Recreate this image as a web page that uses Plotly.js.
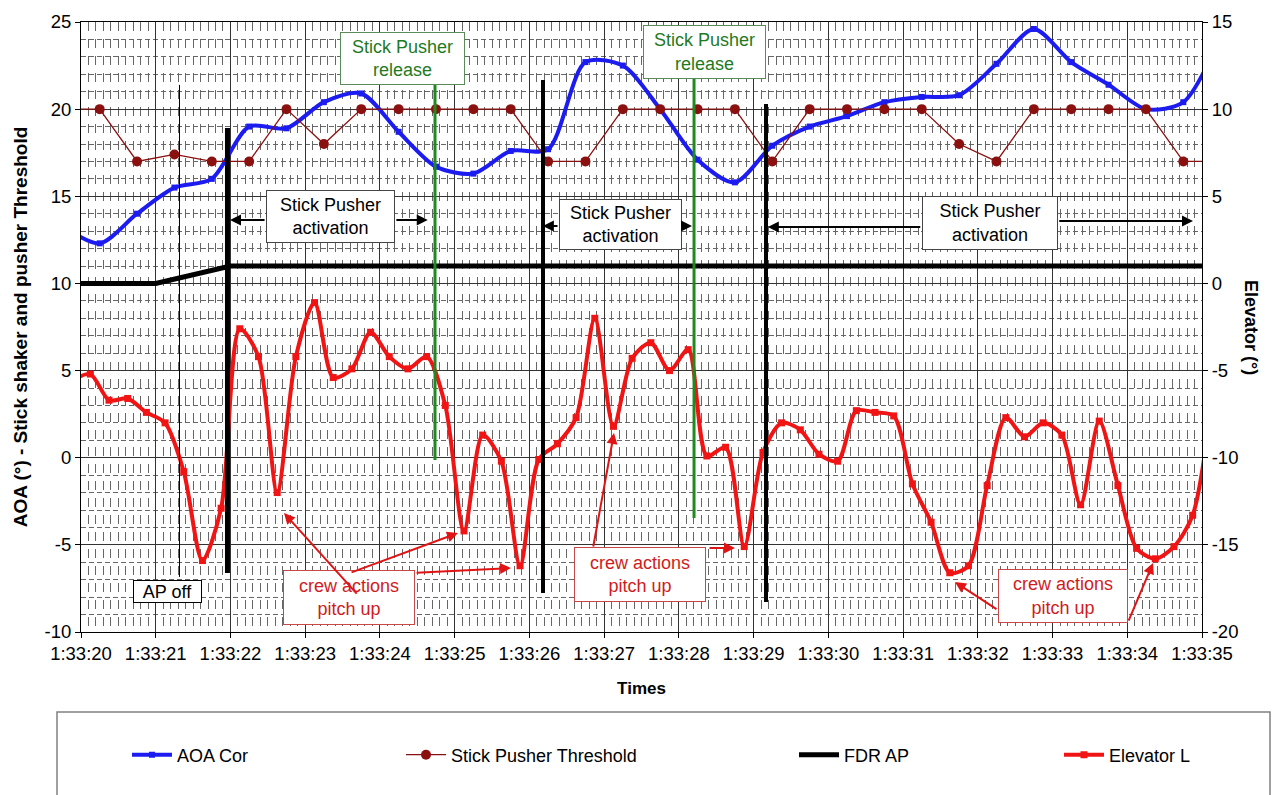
<!DOCTYPE html>
<html>
<head>
<meta charset="utf-8">
<script src="https://cdn.plot.ly/plotly-3.0.1.min.js"></script>
<style>html,body{margin:0;padding:0;background:#fff;}#chart{width:1283px;height:795px;}</style>
</head>
<body>
<div id="chart"></div>
<script>
// ---- Data (time in seconds after 1:33:20) ----
const timeTickVals = [0,1,2,3,4,5,6,7,8,9,10,11,12,13,14,15];
const timeTickText = ["1:33:20","1:33:21","1:33:22","1:33:23","1:33:24","1:33:25","1:33:26","1:33:27","1:33:28","1:33:29","1:33:30","1:33:31","1:33:32","1:33:33","1:33:34","1:33:35"];
const leftTickVals = [-10,-5,0,5,10,15,20,25];
const leftTickText = ["-10","-5","0","5","10","15","20","25"];
const rightTickVals = [-20,-15,-10,-5,0,5,10,15];
const rightTickText = ["-20","-15","-10","-5","0","5","10","15"];

// AOA Cor (left axis)
const aoaTime = [-0.25,0.25,0.75,1.25,1.75,2.25,2.75,3.25,3.75,4.25,4.75,5.25,5.75,6.25,6.75,7.25,7.75,8.25,8.75,9.25,9.75,10.25,10.75,11.25,11.75,12.25,12.75,13.25,13.75,14.25,14.75,15.25];
const aoaCor  = [13.3,12.3,14.0,15.5,16.0,19.0,18.9,20.4,20.9,18.7,16.7,16.3,17.6,17.7,22.7,22.5,20.0,17.1,15.8,17.9,19.0,19.6,20.4,20.7,20.8,22.6,24.6,22.7,21.4,20.0,20.4,24.2];

// Stick Pusher Threshold (left axis)
const spTime = [-0.25,0.25,0.75,1.25,1.75,2.25,2.75,3.25,3.75,4.25,4.75,5.25,5.75,6.25,6.75,7.25,7.75,8.25,8.75,9.25,9.75,10.25,10.75,11.25,11.75,12.25,12.75,13.25,13.75,14.25,14.75,15.25];
const spThreshold = [20,20,17,17.4,17,17,20,18,20,20,20,20,20,17,17,20,20,20,20,17,20,20,20,20,18,17,20,20,20,20,17,17];

// FDR AP (right axis)
const apTime = [0,1,2,3,4,5,6,7,8,9,10,11,12,13,14,15];
const fdrAP  = [0,0,1,1,1,1,1,1,1,1,1,1,1,1,1,1];

// Elevator L (right axis)
const elevTime = [-0.125,0.125,0.375,0.625,0.875,1.125,1.375,1.625,1.875,2.125,2.375,2.625,2.875,3.125,3.375,3.625,3.875,4.125,4.375,4.625,4.875,5.125,5.375,5.625,5.875,6.125,6.375,6.625,6.875,7.125,7.375,7.625,7.875,8.125,8.375,8.625,8.875,9.125,9.375,9.625,9.875,10.125,10.375,10.625,10.875,11.125,11.375,11.625,11.875,12.125,12.375,12.625,12.875,13.125,13.375,13.625,13.875,14.125,14.375,14.625,14.875,15.125];
const elevatorL = [-5.6,-5.2,-6.7,-6.6,-7.4,-8.0,-10.8,-15.9,-12.9,-2.6,-4.2,-12.0,-4.2,-1.1,-5.4,-4.9,-2.8,-4.2,-4.9,-4.2,-7.0,-14.2,-8.7,-10.2,-16.2,-10.1,-9.2,-7.7,-2.0,-8.2,-4.3,-3.4,-5.0,-3.8,-9.9,-9.4,-15.1,-9.7,-8.0,-8.4,-9.8,-10.2,-7.3,-7.4,-7.6,-11.5,-13.7,-16.6,-16.2,-11.6,-7.7,-8.8,-8.0,-8.7,-12.7,-7.9,-11.6,-15.2,-15.8,-15.1,-13.3,-7.0];

// Event markers (time, left-axis values)
const blackEventTime = [1.318, 1.96, 6.182, 9.166];
const blackEventTop = [21.39, 18.92, 21.67, 20.30];
const blackEventBottom = [-6.84, -6.61, -7.76, -8.28];
const greenEventTime = [4.737, 8.203];
const greenEventTop = [22.5, 22.5];
const greenEventBottom = [-0.13, -3.46];

const FONT = "Arial, 'Liberation Sans', sans-serif";

const traces = [
  {x: aoaTime, y: aoaCor, name: 'AOA Cor', type: 'scatter', mode: 'lines+markers', yaxis: 'y',
   line: {color: '#1c1cf0', width: 4, shape: 'spline', smoothing: 0.8},
   marker: {symbol: 'square', size: 6, color: '#1c1cf0'}, legend: 'legend'},
  {x: spTime, y: spThreshold, name: 'Stick Pusher Threshold', type: 'scatter', mode: 'lines+markers', yaxis: 'y',
   line: {color: '#8b1010', width: 1.3},
   marker: {symbol: 'circle', size: 10, color: '#8b1010'}, legend: 'legend2'},
  {x: apTime, y: fdrAP, name: 'FDR AP', type: 'scatter', mode: 'lines', yaxis: 'y2',
   line: {color: '#000000', width: 5}, legend: 'legend3'},
  {x: elevTime, y: elevatorL, name: 'Elevator L', type: 'scatter', mode: 'lines+markers', yaxis: 'y2',
   line: {color: '#f01414', width: 4, shape: 'spline', smoothing: 0.8},
   marker: {symbol: 'square', size: 7, color: '#f01414'}, legend: 'legend4'}
];

const shapes = [];
blackEventTime.forEach((t, i) => {
  shapes.push({type: 'line', xref: 'x', yref: 'y', x0: t, x1: t, y0: blackEventBottom[i], y1: blackEventTop[i],
    line: {color: '#000', width: i === 0 ? 1 : (i === 1 ? 5 : 4)}});
});
greenEventTime.forEach((t, i) => {
  shapes.push({type: 'line', xref: 'x', yref: 'y', x0: t, x1: t, y0: greenEventBottom[i], y1: greenEventTop[i],
    line: {color: '#1f8a1f', width: 3}});
});
// legend frame
shapes.push({type: 'rect', xref: 'paper', yref: 'paper', x0: (57-81)/1121, x1: (1270-81)/1121, y0: (632-805)/610, y1: (632-712)/610,
  line: {color: '#808080', width: 1.5}, fillcolor: 'rgba(0,0,0,0)'});

function box(text, x, y, w, h, fc, bc) {
  return {x: x, y: y, xref: 'x', yref: 'y', text: text, showarrow: false, width: w, height: h,
    bgcolor: '#ffffff', bordercolor: bc, borderwidth: 1, borderpad: 1,
    font: {family: FONT, size: 18, color: fc}, align: 'center', valign: 'middle'};
}
function arrow(tx, ty, hx, hy, color) {
  return {x: hx, y: hy, xref: 'x', yref: 'y', ax: tx, ay: ty, axref: 'x', ayref: 'y', text: '',
    showarrow: true, arrowhead: 2, arrowsize: 1.1, arrowwidth: 2, arrowcolor: color, standoff: 0};
}
const RED = '#e01414', RTXT = '#d01c1c', RBOR = '#c84848';
const annotations = [
  box('Stick Pusher<br>release', 4.302, 22.91, 121, 49, '#1f7a1f', '#5b8a5b'),
  box('Stick Pusher<br>release', 8.343, 23.28, 119, 50, '#1f7a1f', '#5b8a5b'),
  box('Stick Pusher<br>activation', 3.339, 13.84, 125, 49, '#000', '#444'),
  box('Stick Pusher<br>activation', 7.219, 13.38, 119, 47, '#000', '#444'),
  box('Stick Pusher<br>activation', 12.163, 13.47, 132, 50, '#000', '#444'),
  box('AP off', 1.157, -7.68, 65, 19, '#000', '#000'),
  box('crew actions<br>pitch up', 3.586, -8.02, 128, 51, RTXT, RBOR),
  box('crew actions<br>pitch up', 7.48, -6.70, 128, 51, RTXT, RBOR),
  box('crew actions<br>pitch up', 13.14, -7.93, 126, 50, RTXT, RBOR),
  // activation arrows
  arrow(2.476, 13.64, 1.994, 13.64, '#000'),
  arrow(4.2, 13.64, 4.64, 13.64, '#000'),
  arrow(6.396, 13.3, 6.18, 13.3, '#000'),
  arrow(8.04, 13.3, 8.176, 13.3, '#000'),
  arrow(11.25, 13.24, 9.19, 13.24, '#000'),
  arrow(13.07, 13.58, 14.88, 13.58, '#000'),
  // crew action arrows
  arrow(3.707, -7.88, 2.716, -3.17, RED),
  arrow(3.6, -6.61, 5.045, -4.32, RED),
  arrow(4.47, -6.61, 5.754, -6.33, RED),
  arrow(6.851, -5.18, 7.132, 1.42, RED),
  arrow(8.39, -5.18, 8.751, -5.18, RED),
  arrow(12.27, -8.74, 11.695, -7.13, RED),
  arrow(14.01, -9.43, 14.345, -6.04, RED),
  // right axis title
  {xref: 'paper', yref: 'paper', x: (1263-81)/1121, y: 0.5, text: 'Elevator (°)', textangle: 90, showarrow: false,
   font: {family: FONT, size: 18, color: '#000', weight: 'bold'}}
];

function legendAt(px) {
  return {x: (px-81)/1121, y: (632-755)/610, xanchor: 'left', yanchor: 'middle', orientation: 'h',
    bgcolor: 'rgba(0,0,0,0)', borderwidth: 0, itemwidth: 40, font: {family: FONT, size: 18, color: '#000'}};
}

const layout = {
  width: 1283, height: 795,
  margin: {l: 81, r: 81, t: 22, b: 163},
  paper_bgcolor: '#fff', plot_bgcolor: '#fff',
  font: {family: FONT, color: '#000'},
  showlegend: true,
  legend: legendAt(127), legend2: legendAt(401), legend3: legendAt(794), legend4: legendAt(1059),
  xaxis: {range: [0, 15], tickvals: timeTickVals, ticktext: timeTickText, tickfont: {size: 18.5, family: FONT},
    showgrid: true, gridcolor: '#333333', gridwidth: 1, zeroline: false,
    minor: {dtick: 0.1, tick0: 0, showgrid: true, gridcolor: '#666666', gridwidth: 1, griddash: '9px,8px'},
    showline: true, linecolor: '#000', linewidth: 1, mirror: true, ticks: 'outside', ticklen: 5, tickcolor: '#000',
    title: {text: 'Times', font: {size: 17, family: FONT, weight: 'bold'}, standoff: 18}},
  yaxis: {range: [-10, 25], tickvals: leftTickVals, ticktext: leftTickText, tickfont: {size: 18.5, family: FONT},
    showgrid: true, gridcolor: '#333333', gridwidth: 1, zeroline: false,
    minor: {dtick: 1, tick0: 0, showgrid: true, gridcolor: '#666666', gridwidth: 1, griddash: '5px,3px'},
    showline: true, linecolor: '#000', linewidth: 1, mirror: true, ticks: 'outside', ticklen: 5, tickcolor: '#000',
    title: {text: 'AOA (°) - Stick shaker and pusher Threshold', font: {size: 19, family: FONT, weight: 'bold'}, standoff: 11}},
  yaxis2: {range: [-20, 15], tickvals: rightTickVals, ticktext: rightTickText, tickfont: {size: 18.5, family: FONT},
    overlaying: 'y', side: 'right', showgrid: false, zeroline: false,
    showline: true, linecolor: '#000', linewidth: 1, ticks: 'outside', ticklen: 5, tickcolor: '#000'},
  shapes: shapes,
  annotations: annotations
};

Plotly.newPlot('chart', traces, layout, {displayModeBar: false, staticPlot: true});
</script>
</body>
</html>
